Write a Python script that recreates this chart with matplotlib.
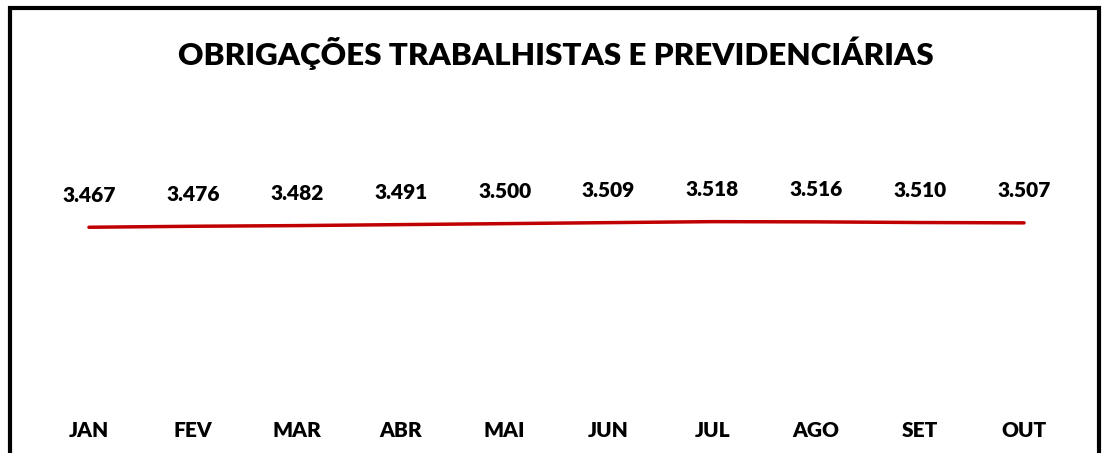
import matplotlib.pyplot as plt
from matplotlib.patches import Rectangle

# monthly values (thousands)
months = ["JAN", "FEV", "MAR", "ABR", "MAI", "JUN", "JUL", "AGO", "SET", "OUT"]
values = [3467, 3476, 3482, 3491, 3500, 3509, 3518, 3516, 3510, 3507]
labels = ["3.467", "3.476", "3.482", "3.491", "3.500", "3.509", "3.518", "3.516", "3.510", "3.507"]

plt.rcParams['font.family'] = ['Lato', 'DejaVu Sans']

fig = plt.figure(figsize=(11.04, 4.53), dpi=100)
W, H = 1104, 453

# axes placed so points land where the reference has them
ax = fig.add_axes([37 / W, 53 / H, 1039 / W, 300 / H])
x = list(range(len(months)))
ax.plot(x, values, color="#C00000", linewidth=2.5, solid_capstyle="round")
ax.set_xlim(-0.5, 9.5)
ax.set_ylim(1895, 4625)

for xi, v, lab in zip(x, values, labels):
    ax.annotate(lab, (xi, v), xytext=(0, 23), textcoords="offset points",
                ha="center", va="center", fontsize=15, fontweight="heavy")

ax.set_xticks(x)
ax.set_xticklabels(months, fontsize=15, fontweight="heavy")
ax.tick_params(axis="x", length=0, pad=15)
ax.set_yticks([])
for s in ax.spines.values():
    s.set_visible(False)

fig.text(556 / W, 1 - 53 / H, "OBRIGAÇÕES TRABALHISTAS E PREVIDENCIÁRIAS",
         ha="center", va="center", fontsize=22.6, fontweight="heavy")

# outer frame (bottom edge is cut off in the reference)
fig.patches.append(Rectangle((9.5 / W, -0.1), 1089.5 / W, 1.1 - 8 / H,
                             transform=fig.transFigure, fill=False,
                             edgecolor="black", linewidth=3))

fig.savefig("out.png", dpi=100)
